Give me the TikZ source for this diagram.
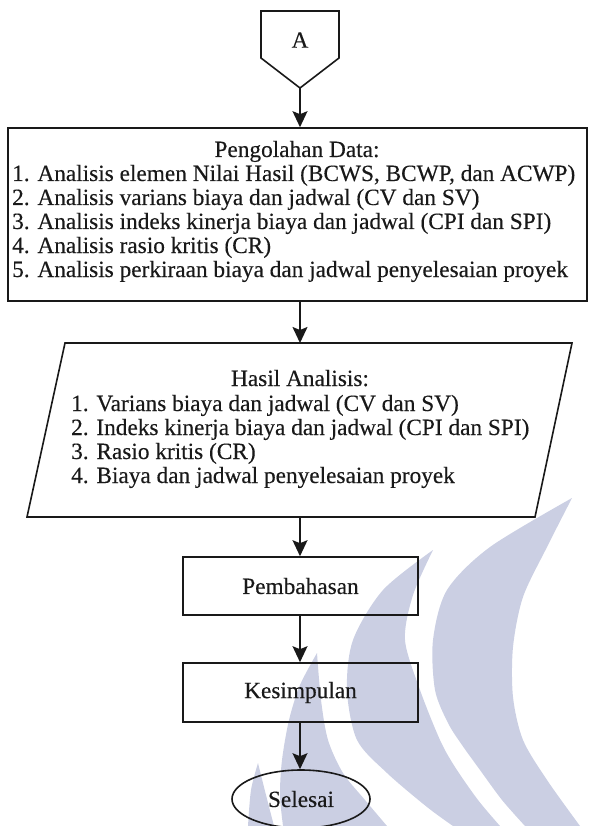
\documentclass[tikz,border=0pt]{standalone}
\usepackage{fontspec}
\setmainfont[FakeBold=0.3]{Liberation Serif}
\usetikzlibrary{shapes.geometric,arrows.meta}
\definecolor{wmcol}{RGB}{203,207,227}
\definecolor{ink}{RGB}{25,25,25}
\begin{document}
\begin{tikzpicture}[x=1pt,y=-1pt,
  txt/.style={inner sep=0pt, text=ink, font=\fontsize{23.3}{24}\selectfont},
  lbl/.style={txt, anchor=base west},
  ttl/.style={txt, anchor=base},
  box/.style={draw=ink, line width=1.6pt, inner sep=0pt, text=ink, font=\fontsize{23.3}{24}\selectfont},
  outline/.style={draw=ink, line width=1.6pt, line join=miter},
  arr/.style={draw=ink, line width=1.6pt, -{Stealth[length=16pt,width=15pt,inset=3pt]}},
  wm/.style={fill=wmcol, draw=none}]
\useasboundingbox (0,0) rectangle (590,826);
% watermark
\fill[wm] plot[smooth] coordinates {(572,498) (490,547) (447,590) (433,640) (435,690) (448,723) (462,745) (480,770) (502,800) (525,826)}
  -- plot[smooth] coordinates {(580,826) (547,780) (523,740) (513,697) (513,647) (523,597) (547,547) (572,498)} -- cycle;
\fill[wm] plot[smooth] coordinates {(433,550) (383,590) (353,640) (347,690) (357,740) (387,773) (427,807) (453,826)}
  -- plot[smooth] coordinates {(500,826) (478,800) (455,767) (440,740) (420,690) (405,640) (413,595) (433,550)} -- cycle;
\fill[wm] plot[smooth] coordinates {(317,653) (300,685) (289,720) (282,760) (280,795) (283,826)}
  -- plot[smooth] coordinates {(387,826) (365,800) (343,773) (328,740) (321,700) (317,653)} -- cycle;
\fill[wm] plot[smooth] coordinates {(258,763) (251,790) (248,826)}
  -- plot[smooth] coordinates {(274,826) (266,795) (258,763)} -- cycle;
% off-page connector A
\draw[outline] (261,11) -- (339,11) -- (339,58) -- (300,88) -- (261,58) -- cycle;
\node[txt] (A) at (300,40) {A};
\coordinate (Atip) at (300,88);
% Pengolahan Data box
\node[box, minimum width=579pt, minimum height=173pt] (pd) at (297.5,214.5) {};
\node[ttl] (pdt) at (297,157) {Pengolahan Data:};
\node[lbl] (pd1) at (12,181) {1. Analisis elemen Nilai Hasil (BCWS, BCWP, dan ACWP)};
\node[lbl] (pd2) at (12,205) {2. Analisis varians biaya dan jadwal (CV dan SV)};
\node[lbl] (pd3) at (12,229) {3. Analisis indeks kinerja biaya dan jadwal (CPI dan SPI)};
\node[lbl] (pd4) at (12,253) {4. Analisis rasio kritis (CR)};
\node[lbl] (pd5) at (12,277) {5. Analisis perkiraan biaya dan jadwal penyelesaian proyek};
\draw[arr] (Atip) -- (pd.north -| Atip);
% Hasil Analisis parallelogram
\draw[outline] (65,343) -- (572,343) -- (535,517) -- (27,517) -- cycle;
\coordinate (haN) at (300,343);
\coordinate (haS) at (300,517);
\node[ttl] (hat) at (300,386) {Hasil Analisis:};
\node[lbl] (ha1) at (71,411) {1. Varians biaya dan jadwal (CV dan SV)};
\node[lbl] (ha2) at (71,435) {2. Indeks kinerja biaya dan jadwal (CPI dan SPI)};
\node[lbl] (ha3) at (71,459) {3. Rasio kritis (CR)};
\node[lbl] (ha4) at (71,483) {4. Biaya dan jadwal penyelesaian proyek};
\draw[arr] (pd.south -| haN) -- (haN);
% Pembahasan, Kesimpulan, Selesai
\node[box, minimum width=235pt, minimum height=58pt] (pb) at (300.5,586) {Pembahasan};
\node[box, minimum width=235pt, minimum height=59pt] (ks) at (300.5,692.5) {Kesimpulan};
\node[box, ellipse, minimum width=138pt, minimum height=58pt] (sl) at (301,799) {Selesai};
\draw[arr] (haS) -- (pb.north -| haS);
\draw[arr] (pb.south -| haS) -- (ks.north -| haS);
\draw[arr] (ks.south -| haS) -- (sl.north -| haS);
\end{tikzpicture}
\end{document}
